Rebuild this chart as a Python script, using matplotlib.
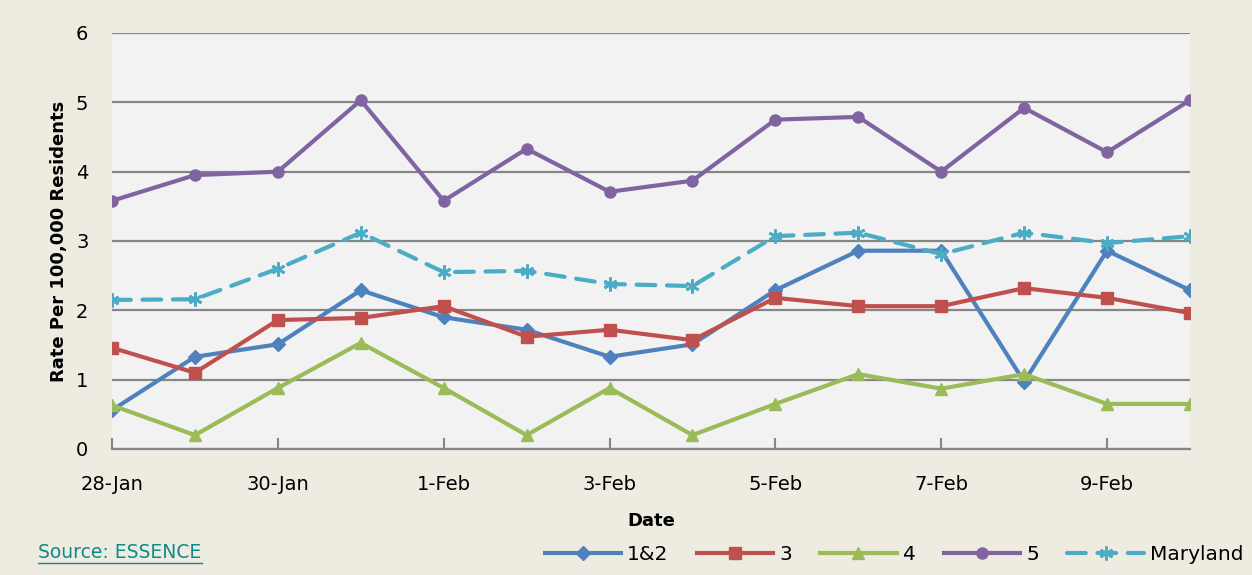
import matplotlib
matplotlib.use("Agg")
import matplotlib.pyplot as plt
import numpy as np

# dates shown on the category axis (one point per day)
dates = ["28-Jan", "29-Jan", "30-Jan", "31-Jan", "1-Feb", "2-Feb", "3-Feb",
         "4-Feb", "5-Feb", "6-Feb", "7-Feb", "8-Feb", "9-Feb", "10-Feb"]

region_12 = [0.56, 1.33, 1.51, 2.29, 1.90, 1.72, 1.33, 1.51, 2.29, 2.86, 2.86, 0.97, 2.86, 2.29]
region_3 = [1.46, 1.10, 1.86, 1.89, 2.06, 1.62, 1.72, 1.57, 2.18, 2.06, 2.06, 2.32, 2.18, 1.96]
region_4 = [0.63, 0.20, 0.88, 1.53, 0.88, 0.20, 0.88, 0.20, 0.65, 1.08, 0.87, 1.08, 0.65, 0.65]
region_5 = [3.58, 3.95, 4.00, 5.03, 3.58, 4.33, 3.71, 3.87, 4.75, 4.79, 4.00, 4.92, 4.28, 5.03]
maryland = [2.15, 2.16, 2.60, 3.12, 2.55, 2.57, 2.38, 2.35, 3.07, 3.12, 2.81, 3.12, 2.97, 3.07]

yticks = [0, 1, 2, 3, 4, 5, 6]

fig = plt.figure(figsize=(12.52, 5.75), dpi=100)
fig.patch.set_facecolor("#EEECE1")
ax = fig.add_axes([112/1252, 1-449/575, (1190-112)/1252, (449-33)/575])
ax.set_facecolor("#F2F2F2")

x = np.arange(len(dates))
lw = 3.0
ax.plot(x, region_12, color="#4F81BD", lw=lw, marker="D", ms=7, label="1&2", zorder=3)
ax.plot(x, region_3, color="#C0504D", lw=lw, marker="s", ms=9, label="3", zorder=3)
ax.plot(x, region_4, color="#9BBB59", lw=lw, marker="^", ms=9, label="4", zorder=3)
ax.plot(x, region_5, color="#8064A2", lw=lw, marker="o", ms=8, label="5", zorder=3)
ax.plot(x, maryland, color="#4BACC6", lw=lw, marker=(6, 2, 0), ms=10, mew=2,
        dashes=(4.5, 2.8), dash_capstyle="round", label="Maryland", zorder=3)

ax.set_xlim(0, len(dates) - 1)
ax.set_ylim(0, 6)
ax.set_yticks(yticks)
ax.yaxis.grid(True, color="#868686", lw=1.6, zorder=1)
ax.set_xticks(x[::2])
ax.set_xticklabels(dates[::2])
ax.tick_params(axis="x", direction="in", length=8, width=1.5, color="#868686",
               labelsize=14, pad=19)
ax.tick_params(axis="y", length=0, labelsize=14, pad=17)
for s in ["top", "right", "left"]:
    ax.spines[s].set_visible(False)
ax.spines["bottom"].set_color("#868686")
ax.spines["bottom"].set_linewidth(1.6)
ax.set_clip_on(False)

ax.set_xlabel("Date", fontsize=13, fontweight="bold", labelpad=13)
ax.set_ylabel("Rate Per 100,000 Residents", fontsize=13, fontweight="bold", labelpad=6)

fig.legend(loc="center", bbox_to_anchor=(894/1252, 1-555/575), ncol=5, frameon=False,
           fontsize=14.5, handlelength=3.8, columnspacing=1.4, handletextpad=0.3)

fig.text(38/1252, 1-552/575, "Source: ESSENCE", color="#0E8A8A", fontsize=13.5,
         va="center", ha="left")
fig.add_artist(plt.Line2D([38/1252, 202/1252], [1-563/575, 1-563/575],
                          color="#0E8A8A", lw=1))

fig.savefig("out.png", dpi=100, facecolor=fig.get_facecolor())
